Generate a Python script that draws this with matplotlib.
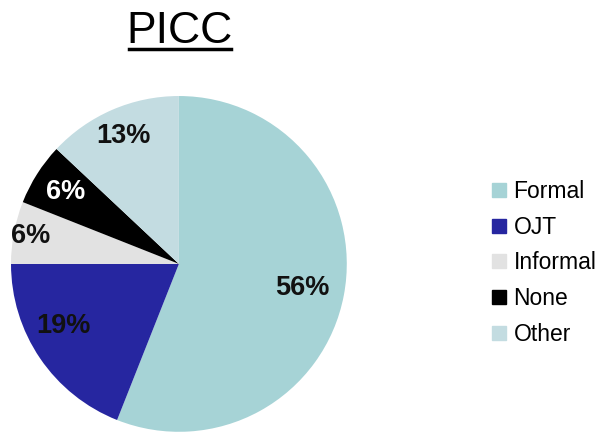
import matplotlib
matplotlib.use("Agg")
import matplotlib.pyplot as plt
from matplotlib.lines import Line2D
import numpy as np

plt.rcParams['font.family'] = ['Liberation Sans', 'DejaVu Sans']

categories = ['Formal', 'OJT', 'Informal', 'None', 'Other']
shares = [56, 19, 6, 6, 13]
colors = ['#a6d3d6', '#2626a0', '#e2e2e2', '#000000', '#c3dce1']
label_colors = ['#111111', '#111111', '#111111', '#ffffff', '#111111']
label_dist = [0.75, 0.78, 0.9, 0.8, 0.83]
label_turn = [0, -6, 0, 0, 0]  # degrees, nudges a label round the centre

fig = plt.figure(figsize=(6.05, 4.36), dpi=100)
ax = fig.add_axes([0.0182, 0.0092, 0.555, 0.771])

wedges, texts, autotexts = ax.pie(
    shares, colors=colors, startangle=90, counterclock=False,
    autopct='%d%%', pctdistance=0.8, radius=1.0,
    textprops={'fontsize': 19.5, 'fontweight': 'bold'})
ax.set_xlim(-1, 1)
ax.set_ylim(-1, 1)
ax.set_aspect('equal')

for w, t, d, a, c in zip(wedges, autotexts, label_dist, label_turn, label_colors):
    ang = np.deg2rad((w.theta1 + w.theta2) / 2 + a)
    t.set_position((d * np.cos(ang), d * np.sin(ang)))
    t.set_color(c)

# title with underline
fig.text(0.297, 0.902, 'PICC', fontsize=32, ha='center', va='baseline')
fig.add_artist(Line2D([0.213, 0.382], [0.887, 0.887], color='black', lw=2.5,
                      transform=fig.transFigure))

handles = [plt.Line2D([], [], marker='s', color=c, linestyle='', markersize=10)
           for c in colors]
fig.legend(handles, categories, loc='center left', bbox_to_anchor=(0.788, 0.397),
           frameon=False, fontsize=16.5, handletextpad=0.2, labelspacing=0.56,
           handlelength=0.9, borderpad=0)

fig.savefig('out.png', dpi=100)
